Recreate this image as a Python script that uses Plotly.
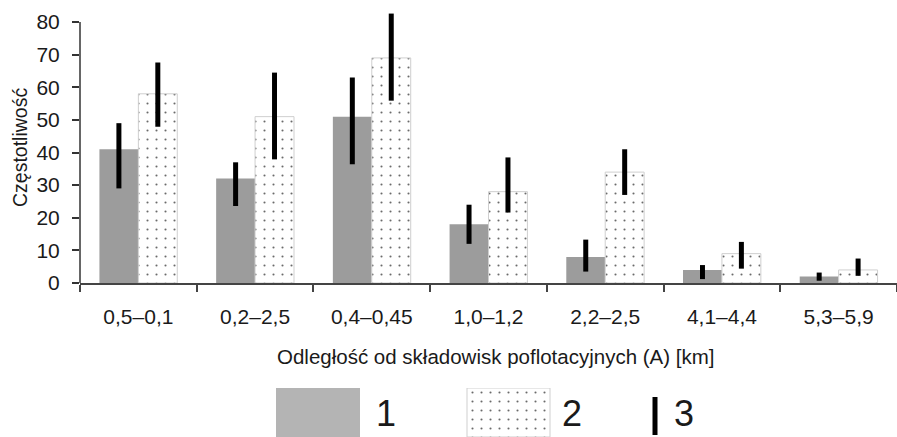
import plotly.graph_objects as go

categories = ["0,5–0,1", "0,2–2,5", "0,4–0,45", "1,0–1,2", "2,2–2,5", "4,1–4,4", "5,3–5,9"]
series1 = [41, 32, 51, 18, 8, 4, 2]
series2 = [58, 51, 69, 28, 34, 9, 4]
err1_plus = [8, 5, 12, 6, 5.3, 1.5, 1.2]
err1_minus = [12, 8.4, 14.6, 6, 4.5, 2.8, 1.3]
err2_plus = [9.6, 13.5, 13.6, 10.5, 7, 3.6, 3.5]
err2_minus = [10.1, 13.1, 13.1, 6.4, 7, 4.6, 1.8]
y_ticks = [0, 10, 20, 30, 40, 50, 60, 70, 80]
legend_labels = ["1", "2", "3"]

W, H = 897, 437
T = 9
PH = H - T  # paper height (b=0)

def py(p):  # pixel y -> paper y
    return (H - p) / PH

def px(p):
    return p / W

FONT = "Liberation Sans, Arial, sans-serif"
GRAY = "#9c9c9c"
LGRAY = "#b4b4b4"
DOT = dict(shape=".", size=9, solidity=0.045, fgcolor="#6a6a6a", bgcolor="white", fillmode="replace")

fig = go.Figure()
fig.add_trace(go.Bar(
    x=categories, y=series1, marker=dict(color=GRAY, line=dict(width=0)),
    error_y=dict(type="data", array=err1_plus, arrayminus=err1_minus, symmetric=False,
                 thickness=5, width=0, color="black"),
    xaxis="x", yaxis="y", showlegend=False, cliponaxis=False,
))
fig.add_trace(go.Bar(
    x=categories, y=series2,
    marker=dict(color="white", pattern=DOT, line=dict(color="#cfcfcf", width=1)),
    error_y=dict(type="data", array=err2_plus, arrayminus=err2_minus, symmetric=False,
                 thickness=5, width=0, color="black"),
    xaxis="x", yaxis="y", showlegend=False, cliponaxis=False,
))

# legend swatches on a hidden pixel-scaled axis
fig.add_trace(go.Bar(x=[318], y=[1], width=[84], base=[0],
                     marker=dict(color=LGRAY, line=dict(width=0)),
                     xaxis="x2", yaxis="y2", showlegend=False, hoverinfo="skip"))
fig.add_trace(go.Bar(x=[508.5], y=[1], width=[83], base=[0],
                     marker=dict(color="white", pattern=DOT, line=dict(color="#cfcfcf", width=1)),
                     xaxis="x2", yaxis="y2", showlegend=False, hoverinfo="skip"))

fig.update_layout(
    width=W, height=H, autosize=False, showlegend=False,
    margin=dict(l=0, r=0, t=T, b=0, pad=0, autoexpand=False),
    paper_bgcolor="white", plot_bgcolor="white",
    barmode="group", bargap=0.333, bargroupgap=0,
    font=dict(family=FONT, color="#1a1a1a"),
    xaxis=dict(domain=[80 / W, 1], anchor="y", type="category",
               showline=True, linecolor="#444", linewidth=2,
               ticks="outside", ticklen=7, tickwidth=2, tickcolor="#444",
               tickson="boundaries", tickfont=dict(size=21, family=FONT),
               ticklabelstandoff=14, showgrid=False, zeroline=False, automargin=False),
    yaxis=dict(domain=[(H - 283) / PH, 1], anchor="x", range=[0, 84],
               tickvals=y_ticks, ticks="outside", ticklen=7, tickwidth=1.5, tickcolor="#333",
               tickfont=dict(size=21, family=FONT), ticklabelstandoff=8,
               showline=False, showgrid=False, zeroline=False, automargin=False),
    xaxis2=dict(domain=[0, 1], anchor="y2", range=[0, W], visible=False, fixedrange=True),
    yaxis2=dict(domain=[0, 49 / PH], anchor="x2", range=[0, 1], visible=False, fixedrange=True),
)

# y axis line from 0 to 80
fig.add_shape(type="line", xref="x domain", yref="y", x0=0, x1=0, y0=0, y1=80,
              line=dict(color="#333", width=1.5))

# axis titles
fig.add_annotation(text="Częstotliwość", xref="paper", yref="paper", x=px(20), y=py(148),
                   textangle=-90, showarrow=False, font=dict(size=19.5, family=FONT),
                   xanchor="center", yanchor="middle")
fig.add_annotation(text="Odległość od składowisk poflotacyjnych (A) [km]", xref="paper", yref="paper",
                   x=px(496), y=py(356), showarrow=False, font=dict(size=20.5, family=FONT),
                   xanchor="center", yanchor="middle")

# legend texts and error symbol
for lab, xc in zip(legend_labels, [386, 572, 684]):
    fig.add_annotation(text=lab, xref="paper", yref="paper", x=px(xc), y=py(413),
                       showarrow=False, font=dict(size=36, family=FONT),
                       xanchor="center", yanchor="middle")
fig.add_shape(type="line", xref="paper", yref="paper", x0=px(655), x1=px(655),
              y0=py(435), y1=py(397), line=dict(color="black", width=5))

fig.write_html("out.html")
